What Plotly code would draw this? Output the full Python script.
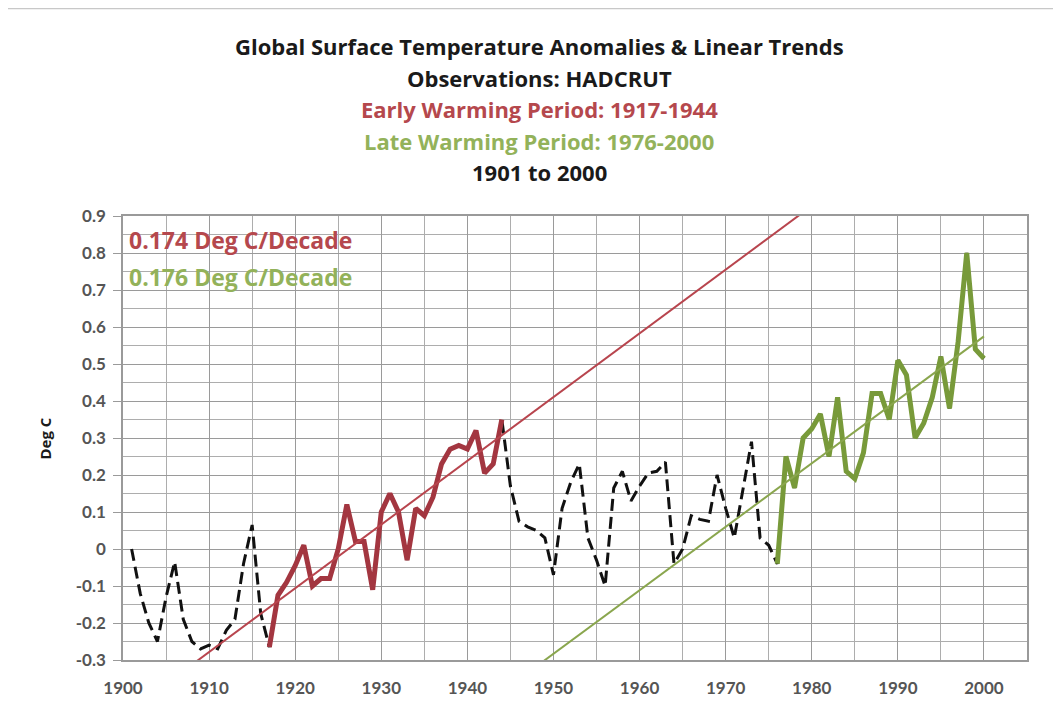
import numpy as np
import plotly.graph_objects as go

# ---- data ----
years = list(range(1901, 2001))
anomaly = [
    0.00, -0.12, -0.20, -0.25, -0.13, -0.035, -0.19, -0.25, -0.27, -0.26,   # 1901-1910
    -0.27, -0.22, -0.19, -0.04, 0.065, -0.175, -0.265, -0.125, -0.09, -0.045,  # 1911-1920
    0.01, -0.10, -0.08, -0.08, 0.00, 0.12, 0.02, 0.02, -0.11, 0.10,            # 1921-1930
    0.15, 0.10, -0.03, 0.11, 0.09, 0.14, 0.23, 0.27, 0.28, 0.27,               # 1931-1940
    0.32, 0.205, 0.23, 0.35, 0.17, 0.075, 0.06, 0.05, 0.03, -0.07,             # 1941-1950
    0.11, 0.18, 0.23, 0.03, -0.03, -0.10, 0.165, 0.21, 0.13, 0.17,             # 1951-1960
    0.205, 0.21, 0.235, -0.04, 0.00, 0.09, 0.08, 0.075, 0.20, 0.11,            # 1961-1970
    0.03, 0.155, 0.29, 0.03, 0.01, -0.04, 0.25, 0.165, 0.30, 0.325,            # 1971-1980
    0.365, 0.25, 0.41, 0.21, 0.19, 0.26, 0.42, 0.42, 0.35, 0.51,               # 1981-1990
    0.47, 0.30, 0.34, 0.41, 0.52, 0.38, 0.56, 0.80, 0.54, 0.515,               # 1991-2000
]
early_period = (1917, 1944)
late_period = (1976, 2000)

title_lines = [
    "Global Surface Temperature Anomalies & Linear Trends",
    "Observations: HADCRUT",
    "Early Warming Period: 1917-1944",
    "Late Warming Period: 1976-2000",
    "1901 to 2000",
]
trend_labels = ["0.174 Deg C/Decade", "0.176 Deg C/Decade"]
x_ticks = list(range(1900, 2001, 10))
y_ticks = [round(-0.3 + 0.1 * i, 1) for i in range(13)]

# ---- styles ----
RED = "#a33640"
RED_TREND = "#b8454e"
GREEN = "#789a3a"
GREEN_TREND = "#8aa64e"
RED_TXT = "#b5484d"
GREEN_TXT = "#93b25a"
TFONT = "Open Sans"
FONT = "Lato"

yrs = np.array(years)
vals = np.array(anomaly)

def seg(period):
    m = (yrs >= period[0]) & (yrs <= period[1])
    return yrs[m], vals[m]

ex, ey = seg(early_period)
lx, ly = seg(late_period)
early_fit = np.polyfit(ex, ey, 1)
late_fit = np.polyfit(lx, ly, 1)

fig = go.Figure()
fig.add_trace(go.Scatter(x=years, y=anomaly, mode="lines",
                         line=dict(color="#111111", width=3, dash="12px,6px"),
                         showlegend=False))
fig.add_trace(go.Scatter(x=ex, y=ey, mode="lines",
                         line=dict(color=RED, width=5), showlegend=False))
fig.add_trace(go.Scatter(x=lx, y=ly, mode="lines",
                         line=dict(color=GREEN, width=5), showlegend=False))
fig.add_trace(go.Scatter(x=years, y=np.polyval(early_fit, yrs), mode="lines",
                         line=dict(color=RED_TREND, width=2), showlegend=False))
fig.add_trace(go.Scatter(x=years, y=np.polyval(late_fit, yrs), mode="lines",
                         line=dict(color=GREEN_TREND, width=2), showlegend=False))

# page pixel frame (the page body adds an 8px offset)
OFF = 8
L, R, T, B = 123, 1027, 216, 663
W, H = 1061 - OFF, 710 - OFF

def px(x):
    return (x - L) / (R - L)

def py(y):
    return (B - y) / (B - T)

annotations = []
title_y = [45, 77, 108, 140, 172]
title_col = ["#1a1a1a", "#1a1a1a", RED_TXT, GREEN_TXT, "#1a1a1a"]
for txt, yy, c in zip(title_lines, title_y, title_col):
    annotations.append(dict(text="<b>%s</b>" % txt, x=px(539), y=py(yy),
                            xref="paper", yref="paper", xanchor="center",
                            yanchor="middle", showarrow=False,
                            font=dict(family=TFONT, size=22, color=c)))
for txt, yy, c in zip(trend_labels, [240, 277], [RED_TXT, GREEN_TXT]):
    annotations.append(dict(text="<b>%s</b>" % txt, x=px(127), y=py(yy),
                            xref="paper", yref="paper", xanchor="left",
                            yanchor="middle", showarrow=False,
                            font=dict(family=TFONT, size=23, color=c)))
annotations.append(dict(text="<b>Deg C</b>", x=px(45), y=py(440),
                        xref="paper", yref="paper", xanchor="center",
                        yanchor="middle", textangle=-90, showarrow=False,
                        font=dict(family=TFONT, size=15, color="#1a1a1a")))

fig.update_layout(
    width=W, height=H,
    margin=dict(l=L - OFF, r=W - (R - OFF), t=T - OFF, b=H - (B - OFF)),
    paper_bgcolor="white", plot_bgcolor="white",
    annotations=annotations,
    shapes=[dict(type="rect", xref="paper", yref="paper",
                 x0=px(5), x1=px(1075), y0=py(7), y1=py(725),
                 line=dict(color="#c8c8c8", width=1.5), layer="below")],
    font=dict(family=FONT),
)
fig.update_xaxes(range=[1900, 2005], tickvals=x_ticks, showgrid=True,
                 gridcolor="#9a9a9a", gridwidth=1.2,
                 minor=dict(dtick=5, tick0=1900, showgrid=True,
                            gridcolor="#adadad", gridwidth=1),
                 showline=True, linecolor="#9a9a9a", linewidth=1.5, mirror=True,
                 ticks="", zeroline=False, ticklabelstandoff=12,
                 tickfont=dict(family=FONT, size=17, color="#555555", weight="bold"))
fig.update_yaxes(range=[-0.3, 0.9], tickvals=y_ticks,
                 ticktext=[("%g" % v) for v in y_ticks],
                 showgrid=True, gridcolor="#9a9a9a", gridwidth=1.2,
                 minor=dict(dtick=0.05, tick0=-0.3, showgrid=True,
                            gridcolor="#adadad", gridwidth=1),
                 showline=True, linecolor="#9a9a9a", linewidth=1.5, mirror=True,
                 ticks="outside", ticklen=8, tickcolor="#9a9a9a",
                 zeroline=False, ticklabelstandoff=4,
                 tickfont=dict(family=FONT, size=17, color="#555555", weight="bold"))

fig.write_html("out.html")
